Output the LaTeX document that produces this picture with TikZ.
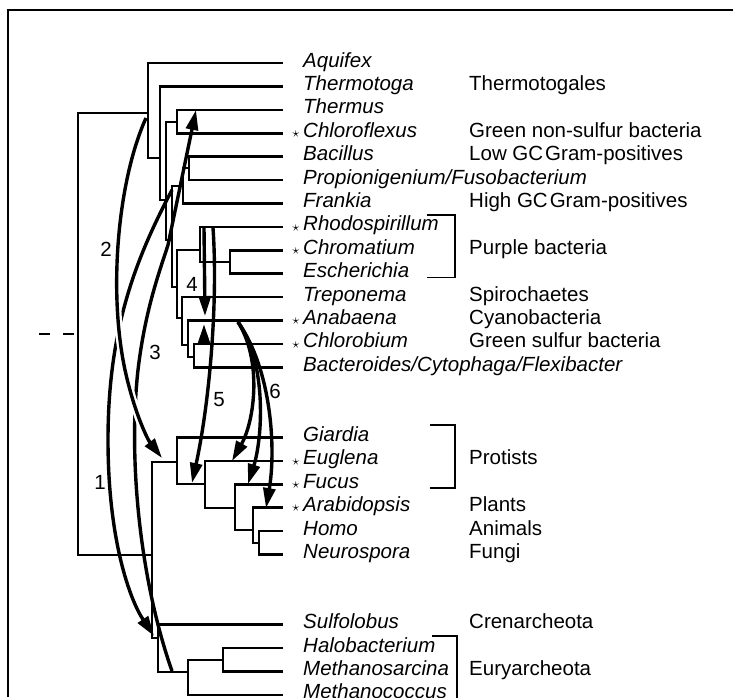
\documentclass[tikz,border=0pt]{standalone}
\usepackage{fontspec}
\setmainfont{Liberation Sans}
\usepackage{tikz}
\usetikzlibrary{arrows.meta}

\begin{document}
\begin{tikzpicture}[x=1pt,y=-1pt,
  br/.style={line width=2.6pt},
  hgt/.style={line width=3.4pt,-{Triangle[length=20pt,width=12pt]}},
  gap/.style={preaction={draw=white,line width=8pt,-,shorten >=26pt,shorten <=8pt}},
  taxon/.style={anchor=base west,inner sep=0pt,font=\fontsize{20.5}{24}\selectfont\itshape},
  grp/.style={anchor=base west,inner sep=0pt,font=\fontsize{20.5}{24}\selectfont},
  num/.style={inner sep=0pt,font=\fontsize{20.5}{24}\selectfont},
  star/.style={inner sep=0pt,font=\fontsize{15}{15}\selectfont}]

  \useasboundingbox (0,0) rectangle (733,697);
  % frame
  \draw[line width=1.6pt] (8,697) -- (8,10) -- (733,10);

  %% taxa: row / name / label / star
  \foreach \r/\nm/\txt/\s in {0/aqu/Aquifex/0, 1/tma/Thermotoga/0, 2/thm/Thermus/0,
      3/chl/Chloroflexus/1, 4/bcl/Bacillus/0, 5/pro/{Propionigenium/Fusobacterium}/0,
      6/fra/Frankia/0, 7/rho/Rhodospirillum/1, 8/chr/Chromatium/1, 9/esc/Escherichia/0,
      10/tre/Treponema/0, 11/ana/Anabaena/1, 12/chb/Chlorobium/1,
      13/bac/{Bacteroides/Cytophaga/Flexibacter}/0,
      16/gia/Giardia/0, 17/eug/Euglena/1, 18/fuc/Fucus/1, 19/ara/Arabidopsis/1,
      20/hom/Homo/0, 21/neu/Neurospora/0,
      24/sul/Sulfolobus/0, 25/hal/Halobacterium/0, 26/msa/Methanosarcina/0,
      27/mco/Methanococcus/0}{
    \pgfmathsetmacro{\yy}{63+23.4*\r}
    \coordinate (\nm) at (283,\yy);
    \node[taxon] (\nm-l) at (303,\yy+4) {\txt};
    \ifnum\s=1 \node[star] (\nm-s) at (296,\yy+1) {$\star$};\fi
  }

  %% group names
  \foreach \r/\nm/\txt in {1/g-tma/Thermotogales, 3/g-gns/Green non-sulfur bacteria,
      4/g-lgc/Low GC\hspace{2pt}Gram-positives, 6/g-hgc/High GC\hspace{2pt}Gram-positives,
      8/g-pur/Purple bacteria, 10/g-spi/Spirochaetes, 11/g-cya/Cyanobacteria,
      12/g-gsb/Green sulfur bacteria, 17/g-pro/Protists, 19/g-pla/Plants,
      20/g-ani/Animals, 21/g-fun/Fungi, 24/g-cre/Crenarcheota, 26/g-eur/Euryarcheota}{
    \node[grp] (\nm) at (469,{63+23.4*\r+4}) {\txt};
  }

  % brackets
  \draw[line width=1.5pt] (427,215) -| (455,277.6) -- (427,277.6);
  \draw[line width=1.5pt] (430,425) -| (455,488.2) -- (430,488.2);
  \draw[line width=1.5pt] (432,636) -| (457,700);

  %% Bacteria
  \coordinate (tc) at (177,122);
  \coordinate (bp) at (189,168);
  \coordinate (gp) at (183,186);
  \coordinate (ce) at (230,262);
  \coordinate (pur) at (200,250);
  \coordinate (cb) at (194,357);
  \coordinate (acb) at (188,345);
  \coordinate (tac) at (182,318);
  \coordinate (ptac) at (177,287);
  \coordinate (low) at (172,240);
  \coordinate (mid) at (166,200);
  \coordinate (tt) at (160,158);
  \coordinate (bact) at (148,113);
  \draw[br] (thm) -| (tc) |- (chl);
  \draw[br] (bcl) -| (bp) |- (pro);
  \draw[br] (bp) -| (gp) |- (fra);
  \draw[br] (chr) -| (ce) |- (esc);
  \draw[br] (rho) -| (pur) |- (ce);
  \draw[br] (chb) -| (cb) |- (bac);
  \draw[br] (ana) -| (acb) |- (cb);
  \draw[br] (tre) -| (tac) |- (acb);
  \draw[br] (pur) -| (ptac) |- (tac);
  \draw[br] (gp) -| (low) |- (ptac);
  \draw[br] (tc) -| (mid) |- (low);
  \draw[br] (tma) -| (tt) |- (mid);
  \draw[br] (aqu) -| (bact) |- (tt);

  %% Eukaryotes
  \coordinate (hn) at (259,543);
  \coordinate (ahn) at (253,530);
  \coordinate (fahn) at (235,508);
  \coordinate (efahn) at (205,484);
  \coordinate (euk) at (177,462);
  \draw[br] (hom) -| (hn) |- (neu);
  \draw[br] (ara) -| (ahn) |- (hn);
  \draw[br] (fuc) -| (fahn) |- (ahn);
  \draw[br] (eug) -| (efahn) |- (fahn);
  \draw[br] (gia) -| (euk) |- (efahn);

  %% Archaea
  \coordinate (mm) at (223,660);
  \coordinate (eury) at (188,672);
  \coordinate (arch) at (158,638);
  \draw[br] (hal) -| (mm) |- (msa);
  \draw[br] (mm) -| (eury) |- (mco);
  \draw[br] (sul) -| (arch) |- (eury);

  %% root
  \coordinate (ea) at (152,555);
  \coordinate (root) at (78,334);
  \coordinate (stem) at (39,334);
  \draw[br] (euk) -| (ea) |- (arch);
  \draw[br] (bact) -| (root) |- (ea);
  \draw[br,dash pattern=on 11pt off 13pt] (stem) -- (root);

  %% transfers
  \coordinate (h1a) at (172,190);  \coordinate (h1b) at (154,636);
  \coordinate (h2a) at (146,118);  \coordinate (h2b) at (162,458);
  \coordinate (h3a) at (172,671);  \coordinate (h3b) at (196,110);
  \coordinate (h4a) at (204,228);  \coordinate (h4b) at (205,316);
  \coordinate (h4c) at (204,344);  \coordinate (h4d) at (204,324);
  \coordinate (h5a) at (213,228);  \coordinate (h5b) at (192,483);
  \coordinate (h6a) at (238,322);
  \coordinate (h6b) at (232,461);  \coordinate (h6c) at (248,484);  \coordinate (h6d) at (266,508);
  \draw[hgt] (h1a) .. controls (135,260) and (108,330) .. (108,440)
    .. controls (108,540) and (130,600) .. (h1b);
  \draw[hgt] (h3a) .. controls (140,580) and (128,460) .. (138,370)
    .. controls (145,310) and (160,270) .. (168,245) -- (h3b);
  \draw[hgt,gap] (h2a) .. controls (118,180) and (108,290) .. (125,370)
    .. controls (135,415) and (148,440) .. (h2b);
  \draw[hgt] (h4a) -- (h4b);
  \draw[hgt] (h4c) -- (h4d);
  \draw[hgt] (h5a) .. controls (218,300) and (210,400) .. (h5b);
  \draw[hgt] (h6a) .. controls (262,360) and (255,420) .. (h6b);
  \draw[hgt] (h6a) .. controls (268,365) and (262,440) .. (h6c);
  \draw[hgt] (h6a) .. controls (272,370) and (276,450) .. (h6d);

  % numbers
  \node[num] (n1) at (100,482) {1};
  \node[num] (n2) at (106,249) {2};
  \node[num] (n3) at (155,352) {3};
  \node[num] (n4) at (192,284) {4};
  \node[num] (n5) at (219,400) {5};
  \node[num] (n6) at (275,391) {6};

\end{tikzpicture}
\end{document}
